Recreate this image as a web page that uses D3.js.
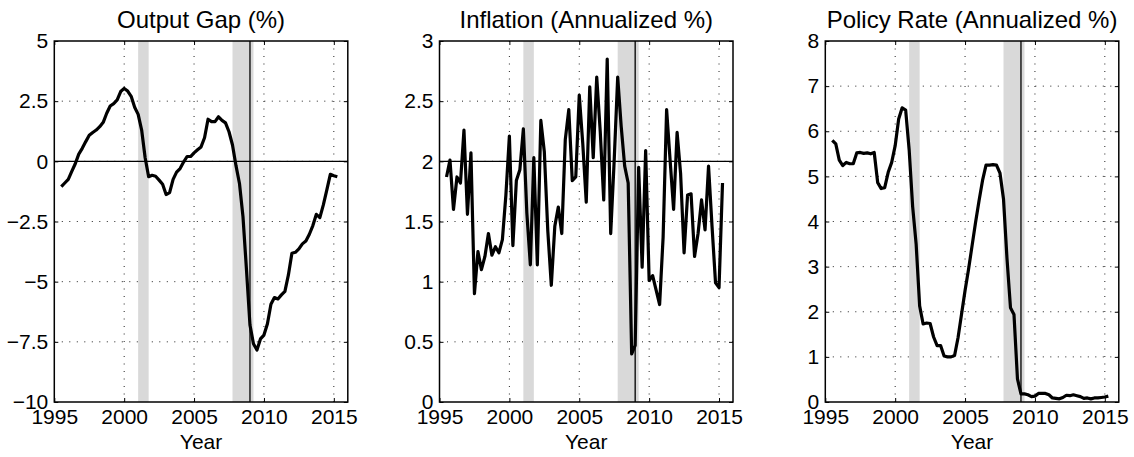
<!DOCTYPE html>
<html>
<head>
<meta charset="utf-8">
<script src="https://cdn.jsdelivr.net/npm/d3@7"></script>
<style>
  body { margin: 0; background: #fff; }
  svg text { font-family: "Liberation Sans", Arial, Helvetica, sans-serif; fill: #000; }
</style>
</head>
<body>
<div id="chart"></div>
<script>
// quarterly dates, 1995Q3 .. 2015Q2 (x = year + (q-1)/4)
const quarters = d3.range(80).map(i => 1995.5 + i / 4);

const outputGap = [
  -1.05, -0.90,
  -0.75, -0.42, -0.10, 0.30,
  0.54, 0.82, 1.08, 1.20,
  1.30, 1.44, 1.62, 2.00,
  2.30, 2.40, 2.55, 2.90,
  3.03, 2.92, 2.70, 2.25,
  1.95, 1.30, 0.15, -0.64,
  -0.58, -0.62, -0.78, -0.95,
  -1.38, -1.30, -0.75, -0.45,
  -0.30, -0.03, 0.20, 0.20,
  0.35, 0.48, 0.60, 0.98,
  1.75, 1.65, 1.65, 1.85,
  1.70, 1.60, 1.23, 0.68,
  -0.18, -0.92, -2.30, -4.50,
  -6.80, -7.58, -7.84, -7.38,
  -7.22, -6.75, -5.94, -5.66,
  -5.72, -5.55, -5.40, -4.72,
  -3.82, -3.78, -3.64, -3.43,
  -3.31, -3.03, -2.67, -2.20,
  -2.34, -1.81, -1.19, -0.54,
  -0.60, -0.64
];

const inflation = [
  1.87, 2.01,
  1.60, 1.87, 1.82, 2.26,
  1.56, 2.07, 0.90, 1.25,
  1.10, 1.21, 1.40, 1.22,
  1.29, 1.24, 1.35, 1.72,
  2.21, 1.30, 1.84, 1.93,
  2.27, 1.57, 1.14, 2.03,
  1.14, 2.34, 2.08, 1.42,
  0.97, 1.46, 1.62, 1.40,
  2.18, 2.43, 1.84, 1.87,
  2.55, 2.15, 1.66, 2.62,
  2.03, 2.70, 2.25, 1.68,
  2.85, 1.40, 2.01, 2.70,
  2.29, 1.96, 1.82, 0.40,
  0.47, 1.95, 1.12, 2.09,
  1.01, 1.05, 0.93, 0.81,
  1.37, 2.43, 2.01, 1.60,
  2.24, 1.90, 1.24, 1.72,
  1.73, 1.21, 1.40, 1.68,
  1.43, 1.96, 1.46, 0.99,
  0.95, 1.82
];

const policyRate = [
  5.80, 5.72,
  5.36, 5.24, 5.31, 5.28,
  5.28, 5.52, 5.53, 5.51,
  5.52, 5.50, 5.53, 4.86,
  4.73, 4.75, 5.09, 5.31,
  5.68, 6.27, 6.52, 6.47,
  5.59, 4.33, 3.50, 2.13,
  1.73, 1.75, 1.74, 1.44,
  1.25, 1.25, 1.02, 1.00,
  1.00, 1.03, 1.43, 1.95,
  2.47, 2.94, 3.46, 3.98,
  4.46, 4.91, 5.25, 5.25,
  5.26, 5.25, 5.07, 4.50,
  3.18, 2.09, 1.94, 0.51,
  0.18, 0.18, 0.16, 0.12,
  0.13, 0.19, 0.19, 0.19,
  0.16, 0.09, 0.08, 0.07,
  0.10, 0.15, 0.14, 0.16,
  0.14, 0.12, 0.08, 0.09,
  0.07, 0.09, 0.09, 0.10,
  0.11, 0.13
];

const titles = ["Output Gap (%)", "Inflation (Annualized %)", "Policy Rate (Annualized %)"];
const yDomains = [[-10, 5], [0, 3], [0, 8]];
const yTicks = [
  [-10, -7.5, -5, -2.5, 0, 2.5, 5],
  [0, 0.5, 1, 1.5, 2, 2.5, 3],
  [0, 1, 2, 3, 4, 5, 6, 7, 8]
];
const xDomain = [1995, 2016];
const xTicks = [1995, 2000, 2005, 2010, 2015];
const refLines = [0, 2, null];
const recessions = [[2001.0, 2001.75], [2007.75, 2009.25]];
const zlbStart = 2009.0;

const series = [outputGap, inflation, policyRate];

// layout
const W = 1134, H = 457;
const plotW = 293.5, plotH = 361, plotTop = 41;
const lefts = [54.3, 439.5, 825.3];

const svg = d3.select("#chart").append("svg")
  .attr("width", W)
  .attr("height", H);

svg.append("rect").attr("width", W).attr("height", H).attr("fill", "#fff");

series.forEach((values, i) => {
  const x = d3.scaleLinear().domain(xDomain).range([0, plotW]);
  const y = d3.scaleLinear().domain(yDomains[i]).range([plotH, 0]);

  const g = svg.append("g")
    .attr("transform", "translate(" + lefts[i] + "," + plotTop + ")");

  // dotted grid (skip the box edges)
  const gx = xTicks.filter(t => t > xDomain[0] && t < xDomain[1]);
  const gy = yTicks[i].filter(t => t > yDomains[i][0] && t < yDomains[i][1]);
  g.selectAll(".vgrid").data(gx).enter().append("line")
    .attr("x1", d => x(d)).attr("x2", d => x(d))
    .attr("y1", 0).attr("y2", plotH)
    .attr("stroke", "#222").attr("stroke-width", 1)
    .attr("stroke-dasharray", "1,6.5");
  g.selectAll(".hgrid").data(gy).enter().append("line")
    .attr("y1", d => y(d)).attr("y2", d => y(d))
    .attr("x1", 0).attr("x2", plotW)
    .attr("stroke", "#222").attr("stroke-width", 1)
    .attr("stroke-dasharray", "1,6.5");

  // recession shading
  g.selectAll(".rec").data(recessions).enter().append("rect")
    .attr("x", d => x(d[0]))
    .attr("width", d => x(d[1]) - x(d[0]))
    .attr("y", 0)
    .attr("height", plotH)
    .attr("fill", "#d9d9d9");

  // reference line
  if (refLines[i] !== null) {
    g.append("line")
      .attr("x1", 0).attr("x2", plotW)
      .attr("y1", y(refLines[i])).attr("y2", y(refLines[i]))
      .attr("stroke", "#000").attr("stroke-width", 1.3);
  }

  // vertical line
  g.append("line")
    .attr("x1", x(zlbStart)).attr("x2", x(zlbStart))
    .attr("y1", 0).attr("y2", plotH)
    .attr("stroke", "#000").attr("stroke-width", 1.3);

  // data line
  const line = d3.line()
    .x((d, j) => x(quarters[j]))
    .y(d => y(d));
  g.append("path")
    .datum(values)
    .attr("d", line)
    .attr("fill", "none")
    .attr("stroke", "#000")
    .attr("stroke-width", 3.2)
    .attr("stroke-linejoin", "round");

  // axes: ticks inside, box on
  const fmt = d3.format("~g");
  const yAxis = g.append("g")
    .call(d3.axisLeft(y).tickValues(yTicks[i]).tickSize(-4).tickPadding(6).tickFormat(fmt));
  const xAxis = g.append("g")
    .attr("transform", "translate(0," + plotH + ")")
    .call(d3.axisBottom(x).tickValues(xTicks).tickSize(-4).tickPadding(7).tickFormat(d3.format("d")));
  g.append("g")
    .attr("transform", "translate(" + plotW + ",0)")
    .call(d3.axisRight(y).tickValues(yTicks[i]).tickSize(-4).tickFormat(""));
  g.append("g")
    .call(d3.axisTop(x).tickValues(xTicks).tickSize(-4).tickFormat(""));

  g.selectAll(".domain").remove();
  g.selectAll(".tick line").attr("stroke", "#000").attr("stroke-width", 1);
  yAxis.selectAll("text").style("font-size", "21px").attr("fill", "#000");
  xAxis.selectAll("text").style("font-size", "21px").attr("fill", "#000");

  g.append("rect")
    .attr("width", plotW).attr("height", plotH)
    .attr("fill", "none").attr("stroke", "#000").attr("stroke-width", 1.5);

  // title and x label
  g.append("text")
    .attr("x", plotW / 2).attr("y", -13)
    .attr("text-anchor", "middle")
    .style("font-size", "24px")
    .text(titles[i]);
  g.append("text")
    .attr("x", plotW / 2).attr("y", plotH + 47)
    .attr("text-anchor", "middle")
    .style("font-size", "21px")
    .text("Year");
});
</script>
</body>
</html>
